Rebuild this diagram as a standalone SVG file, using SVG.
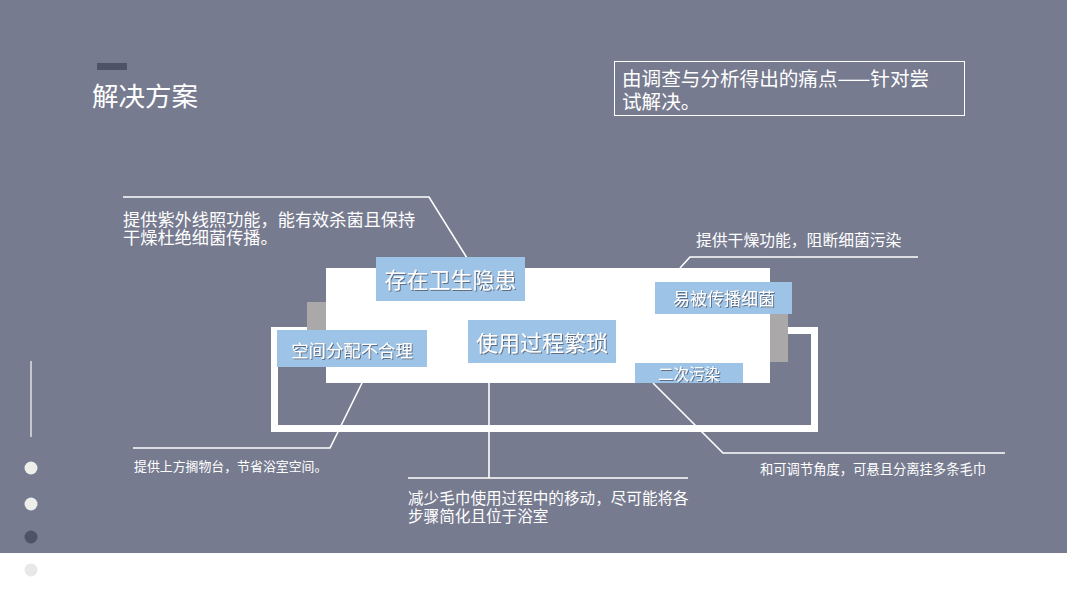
<svg xmlns="http://www.w3.org/2000/svg" width="1067" height="600" viewBox="0 0 1067 600">
<defs>
<style>
text{font-family:"Noto Sans CJK SC","Noto Sans",sans-serif;fill:#ffffff}
.lbl{fill:#9dc3e6}
.ln{stroke:#ffffff;stroke-width:1.6;fill:none}
.sh{filter:url(#ts)}
</style>
<filter id="ts" x="-10%" y="-30%" width="120%" height="160%">
<feDropShadow dx="1" dy="1" stdDeviation="0.6" flood-color="#4a4f60" flood-opacity="0.75"/>
</filter>
</defs>
<rect x="0" y="0" width="1067" height="600" fill="#ffffff"/>
<rect x="0" y="0" width="1067" height="553" fill="#777b8f"/>

<g id="header">
<rect x="97" y="63" width="30" height="7" fill="#4d5264"/>
<text x="92" y="106" font-size="26.5">解决方案</text>
</g>

<g id="summary">
<rect x="614.5" y="61.5" width="350" height="54" fill="none" stroke="#ffffff" stroke-width="1"/>
<text x="622" y="85.5" font-size="19.6">由调查与分析得出的痛点——针对尝</text>
<text x="622" y="108.5" font-size="19.6">试解决。</text>
</g>

<g id="side-deco">
<line x1="31" y1="361" x2="31" y2="437" stroke="#e2e2e2" stroke-width="1.5"/>
<circle cx="31" cy="468" r="6.5" fill="#eeeeea"/>
<circle cx="31" cy="504" r="6.5" fill="#eeeeea"/>
<circle cx="31" cy="537" r="6.5" fill="#4e5366"/>
<circle cx="31" cy="570" r="6.5" fill="#e8e8e8"/>
</g>

<g id="device">
<rect x="274.5" y="330.5" width="540" height="98" fill="none" stroke="#ffffff" stroke-width="7"/>
<rect x="307" y="302" width="20" height="28" fill="#aaa8a8"/>
<rect x="770" y="314" width="18" height="48" fill="#aaa8a8"/>
<rect x="326" y="268" width="444" height="115" fill="#ffffff"/>
</g>

<g id="connectors">
<polyline class="ln" points="123,197 429,197 467,258"/>
<polyline class="ln" points="918,257 690,257 680,268"/>
<polyline class="ln" points="362,383 330,448 133,448"/>
<polyline class="ln" points="489,383 489,478"/>
<line class="ln" x1="408" y1="478" x2="688" y2="478"/>
<polyline class="ln" points="653,383 723,453 1005,453"/>
</g>

<g id="node-hygiene">
<rect class="lbl" x="376" y="257" width="149" height="44"/>
<text class="sh" x="450.5" y="287.5" font-size="22" text-anchor="middle">存在卫生隐患</text>
</g>
<g id="node-space">
<rect class="lbl" x="277" y="330" width="150" height="37"/>
<text class="sh" x="352" y="357" font-size="17.4" text-anchor="middle">空间分配不合理</text>
</g>
<g id="node-complex">
<rect class="lbl" x="468" y="320" width="148" height="43"/>
<text class="sh" x="542" y="350.5" font-size="22" text-anchor="middle">使用过程繁琐</text>
</g>
<g id="node-bacteria">
<rect class="lbl" x="655" y="282" width="137" height="32"/>
<text class="sh" x="724" y="305" font-size="17" text-anchor="middle">易被传播细菌</text>
</g>
<g id="node-pollution">
<rect class="lbl" x="635" y="363" width="108" height="20"/>
<text class="sh" x="689" y="379.5" font-size="15.5" text-anchor="middle">二次污染</text>
</g>

<g id="note-uv">
<text x="123" y="226" font-size="17.2">提供紫外线照功能，能有效杀菌且保持</text>
<text x="123" y="243.5" font-size="17.2">干燥杜绝细菌传播。</text>
</g>
<g id="note-dry">
<text x="696" y="245.5" font-size="15.8">提供干燥功能，阻断细菌污染</text>
</g>
<g id="note-shelf">
<text x="134" y="470.5" font-size="12.9">提供上方搁物台，节省浴室空间。</text>
</g>
<g id="note-move">
<text x="408" y="504" font-size="15.6">减少毛巾使用过程中的移动，尽可能将各</text>
<text x="408" y="521.5" font-size="15.6">步骤简化且位于浴室</text>
</g>
<g id="note-hang">
<text x="760" y="473.5" font-size="13.3">和可调节角度，可悬且分离挂多条毛巾</text>
</g>
</svg>
